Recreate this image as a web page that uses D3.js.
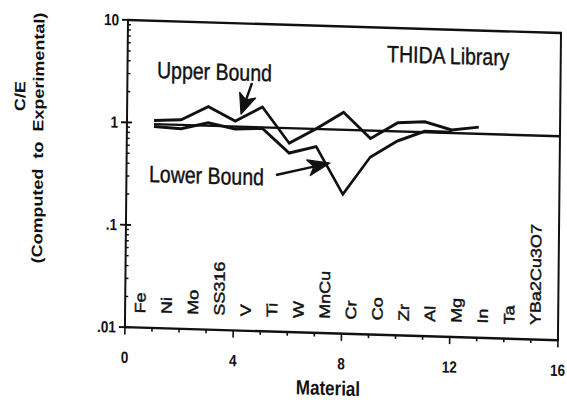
<!DOCTYPE html>
<html>
<head>
<meta charset="utf-8">
<script src="https://cdn.jsdelivr.net/npm/d3@7"></script>
<style>
  html, body { margin: 0; padding: 0; background: #fff; }
  svg { display: block; }
  text { font-family: "Liberation Sans", Arial, Helvetica, sans-serif; fill: #111; }
</style>
</head>
<body>
<svg id="container"></svg>
<script>
// material names along the x axis
const materials = ["Fe", "Ni", "Mo", "SS316", "V", "Ti", "W", "MnCu", "Cr", "Co", "Zr", "Al", "Mg", "In", "Ta", "YBa2Cu3O7"]

// C/E, material index 1..n
const upperBound = [1.06, 1.10, 1.51, 1.11, 1.55, 0.70, 0.99, 1.45, 0.82, 1.19, 1.24, 1.05, 1.14]
const lowerBound = [0.93, 0.90, 1.05, 0.93, 0.96, 0.56, 0.66, 0.23, 0.54, 0.79, 1.00, 1.00]
const refLine = [[1, 0.98], [16, 0.98]]

const xTicks = [0, 4, 8, 12, 16]
const yTicks = [10, 1, 0.1, 0.01]
const yTickLabels = ["10", "1", ".1", ".01"]

const W = 567, H = 403
const plotW = 433, plotH = 256
// the scan is a bit skewed and stretched, so the whole chart goes through this matrix
const M = { a: 1, b: 0.03, c: -0.012, d: 1.2, e: 128, f: 20 }

// page pixel -> inner coords
const inner = (px, py) => {
	const det = M.a * M.d - M.b * M.c
	const x = (M.d * (px - M.e) - M.c * (py - M.f)) / det
	const y = (M.a * (py - M.f) - M.b * (px - M.e)) / det
	return [x, y]
}

const setup = () => {
	const svg = d3.select("#container")
	svg.attr("width", W).attr("height", H)
	svg.append("rect").attr("width", W).attr("height", H).attr("fill", "#fff")

	const g = svg.append("g")
	   .attr("transform", `matrix(${M.a},${M.b},${M.c},${M.d},${M.e},${M.f})`)

	const x = d3.scaleLinear().domain([0, 16]).range([0, plotW])
	const y = d3.scaleLog().domain([0.01, 10]).range([plotH, 0])

	// frame
	g.append("rect")
	 .attr("width", plotW).attr("height", plotH)
	 .attr("fill", "none").attr("stroke", "#111").attr("stroke-width", 2)

	// y ticks: majors cross the axis, minors on the inside
	const minor = []
	for (let dec of [0.01, 0.1, 1]) {
		for (let k = 2; k <= 9; k++) minor.push(dec * k)
	}
	g.selectAll(".ymin").data(minor).enter().append("line")
	 .attr("x1", 0).attr("x2", 3)
	 .attr("y1", d => y(d)).attr("y2", d => y(d))
	 .attr("stroke", "#111").attr("stroke-width", 1.2)
	g.selectAll(".ymaj").data(yTicks).enter().append("line")
	 .attr("x1", -6).attr("x2", 5)
	 .attr("y1", d => y(d)).attr("y2", d => y(d))
	 .attr("stroke", "#111").attr("stroke-width", 1.6)
	g.selectAll(".ylab").data(yTicks).enter().append("text")
	 .attr("x", -9).attr("y", d => y(d)).attr("dy", "0.35em")
	 .attr("text-anchor", "end")
	 .attr("font-size", 13.5).attr("font-weight", "bold")
	 .text((d, i) => yTickLabels[i])

	// x ticks every unit, longer on the labelled ones
	g.selectAll(".xt").data(d3.range(0, 17)).enter().append("line")
	 .attr("x1", d => x(d)).attr("x2", d => x(d))
	 .attr("y1", plotH).attr("y2", d => plotH + (d % 4 === 0 ? 6 : 3))
	 .attr("stroke", "#111").attr("stroke-width", 1.6)
	g.selectAll(".xlab").data(xTicks).enter().append("text")
	 .attr("x", d => x(d)).attr("y", plotH + 25).attr("dy", "0.35em")
	 .attr("text-anchor", "middle")
	 .attr("font-size", 13.5).attr("font-weight", "bold")
	 .text(d => d)

	// material names, standing up
	const mx = d3.scalePoint().domain(materials).range([x(0.55), x(15.15)])
	g.selectAll(".mat").data(materials).enter().append("text")
	 .attr("transform", d => `translate(${mx(d)},${plotH - 12}) rotate(-90)`)
	 .attr("dy", "0.36em")
	 .attr("font-size", 15)
	 .attr("stroke", "#111").attr("stroke-width", 0.45)
	 .text(d => d)

	// curves
	const line = d3.line().x(d => x(d[0])).y(d => y(d[1]))
	g.append("path").attr("d", line(refLine))
	 .attr("fill", "none").attr("stroke", "#111").attr("stroke-width", 2)
	for (let series of [upperBound, lowerBound]) {
		g.append("path")
		 .attr("d", line(series.map((v, i) => [i + 1, v])))
		 .attr("fill", "none").attr("stroke", "#111")
		 .attr("stroke-width", 2.5).attr("stroke-linejoin", "miter")
	}

	// annotations (page pixel spots turned into inner coords)
	const note = (txt, px, py, size) => {
		const p = inner(px, py)
		g.append("text").attr("x", p[0]).attr("y", p[1])
		 .attr("font-size", size)
		 .attr("stroke", "#111").attr("stroke-width", 0.35)
		 .text(txt)
	}
	note("THIDA Library", 387, 62, 19.5)
	note("Upper Bound", 157, 78, 19.5)
	note("Lower Bound", 149, 182, 19.5)

	// arrows drawn straight on the page, head as a notched triangle
	const arrow = (p0, p1, len, half) => {
		const dx = p1[0] - p0[0], dy = p1[1] - p0[1]
		const L = Math.hypot(dx, dy), ux = dx / L, uy = dy / L
		const bx = p1[0] - ux * len, by = p1[1] - uy * len
		const nx = p1[0] - ux * len * 0.75, ny = p1[1] - uy * len * 0.75
		svg.append("line")
		   .attr("x1", p0[0]).attr("y1", p0[1]).attr("x2", nx).attr("y2", ny)
		   .attr("stroke", "#111").attr("stroke-width", 2.4)
		const pts = [
			[p1[0], p1[1]],
			[bx - uy * half, by + ux * half],
			[nx, ny],
			[bx + uy * half, by - ux * half]
		]
		svg.append("path").attr("d", "M" + pts.map(p => p.join(",")).join("L") + "Z")
		   .attr("fill", "#111").attr("stroke", "#111").attr("stroke-width", 1.2)
		   .attr("stroke-linejoin", "round")
	}
	arrow([252, 83], [241, 114], 20, 8.5)
	arrow([276, 175], [330, 163], 22, 8)

	// axis titles
	const mt = inner(328, 388)
	g.append("text").attr("x", mt[0]).attr("y", mt[1]).attr("dy", "0.35em")
	 .attr("text-anchor", "middle").attr("font-size", 17).attr("font-weight", "bold")
	 .text("Material")
	const t1 = inner(20, 96), t2 = inner(38, 138)
	g.append("text").attr("transform", `translate(${t1[0]},${t1[1]}) rotate(-90)`)
	 .attr("dy", "0.35em").attr("text-anchor", "middle")
	 .attr("font-size", 15).attr("font-weight", "bold")
	 .text("C/E")
	g.append("text").attr("transform", `translate(${t2[0]},${t2[1]}) rotate(-90)`)
	 .attr("dy", "0.35em").attr("text-anchor", "middle")
	 .attr("font-size", 15).attr("font-weight", "bold")
	 .style("white-space", "pre")
	 .text("(Computed  to  Experimental)")
}

document.addEventListener("DOMContentLoaded", setup)
</script>
</body>
</html>
